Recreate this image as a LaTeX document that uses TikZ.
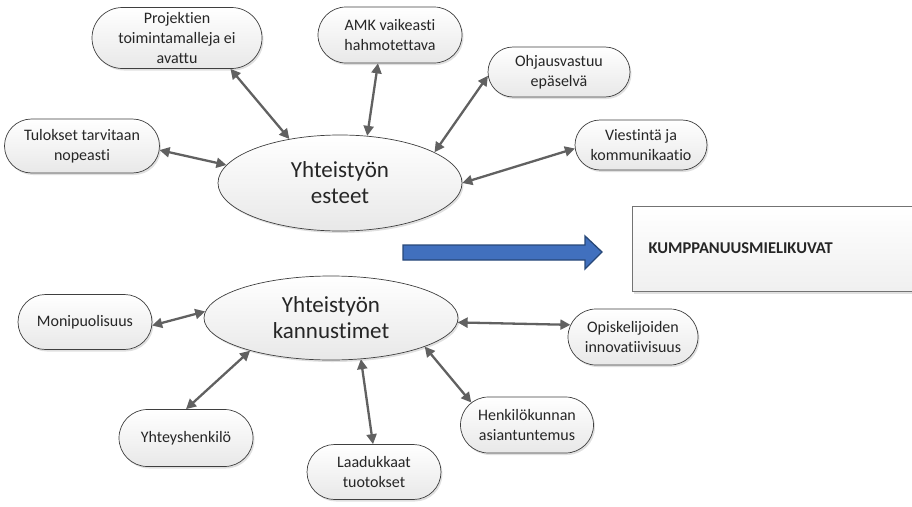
\documentclass[tikz,border=0pt]{standalone}
\usepackage{fontspec}
\setmainfont{Carlito}[Ligatures=NoCommon]
\usetikzlibrary{shapes.geometric,shapes.misc,arrows.meta,shadows}
\definecolor{arr}{HTML}{616161}
\definecolor{bord}{HTML}{3F3F3F}
\definecolor{blueF}{HTML}{4170BE}
\definecolor{blueD}{HTML}{284878}
\definecolor{txt}{HTML}{262626}
\begin{document}
\begin{tikzpicture}[x=1pt,y=-1pt,
  pill/.style={rounded rectangle, draw=bord, line width=0.7pt, top color=white, bottom color=black!9,
    drop shadow={shadow xshift=1.5pt,shadow yshift=-2pt,fill=black,opacity=0.12},
    align=center, font=\fontsize{16}{20}\selectfont, text=txt, inner sep=0pt},
  oval/.style={ellipse, draw=bord, line width=0.7pt, top color=white, bottom color=black!9,
    drop shadow={shadow xshift=1.5pt,shadow yshift=-2pt,fill=black,opacity=0.12},
    align=center, font=\fontsize{23}{26}\selectfont, text=txt, inner sep=0pt},
  link/.style={draw=arr, line width=2.3pt, {Triangle[length=10pt,width=10pt]}-{Triangle[length=10pt,width=10pt]}}
]
\useasboundingbox (0,0) rectangle (912,506);

% top group
\node[oval, minimum width=244pt, minimum height=96pt] (est) at (340,183) {Yhteistyön\\esteet};
\node[pill, minimum width=170pt, minimum height=61pt] (proj) at (177,38) {Projektien\\toimintamalleja ei\\avattu};
\node[pill, minimum width=144pt, minimum height=56pt] (amk) at (390,35) {AMK vaikeasti\\hahmotettava};
\node[pill, minimum width=142pt, minimum height=50pt] (ohj) at (559,72) {Ohjausvastuu\\epäselvä};
\node[pill, minimum width=132pt, minimum height=50pt] (vie) at (641,145) {Viestintä ja\\kommunikaatio};
\node[pill, minimum width=155pt, minimum height=54pt] (tul) at (82,146) {Tulokset tarvitaan\\nopeasti};

\draw[link] (proj.-30) -- (est.139);
\draw[link] (amk.-113) -- (est.60);
\draw[link] (ohj.183) -- (est.18);
\draw[link] (vie.183) -- (est.0.5);
\draw[link] (tul.-3) -- (est.171);

% bottom group
\node[oval, minimum width=254pt, minimum height=84pt] (kan) at (331,318) {Yhteistyön\\kannustimet};
\node[pill, minimum width=134pt, minimum height=55pt] (mon) at (85,322) {Monipuolisuus};
\node[pill, minimum width=134pt, minimum height=57pt] (yht) at (186,438) {Yhteyshenkilö};
\node[pill, minimum width=134pt, minimum height=55pt] (laa) at (374,472) {Laadukkaat\\tuotokset};
\node[pill, minimum width=130pt, minimum height=56pt] (opi) at (633,337) {Opiskelijoiden\\innovatiivisuus};
\node[pill, minimum width=133pt, minimum height=56pt] (hen) at (527,425) {Henkilökunnan\\asiantuntemus};

\draw[link] (mon.-3) -- (kan.177);
\draw[link] (yht.90) -- (kan.202);
\draw[link] (laa.92) -- (kan.-54);
\draw[link] (opi.169) -- (kan.-2);
\draw[link] (hen.158) -- (kan.-17);

% blue arrow
\coordinate (bs) at (403,252);
\coordinate (bt) at (602,252);
\draw[blueD, line width=1.3pt, fill=blueF]
  (403,245) -- (585,245) -- (585,236) -- (bt) -- (585,269) -- (585,260) -- (403,260) -- cycle;

% result box
\node[draw=black!55, line width=0.8pt, top color=white, bottom color=black!6,
  drop shadow={shadow xshift=1.5pt,shadow yshift=-2.5pt,fill=black,opacity=0.12},
  minimum width=290pt, minimum height=85pt, anchor=north west, inner sep=0pt] (kum) at (632,206) {};
\node[anchor=west, font=\fontsize{16.5}{18}\selectfont\bfseries, text=txt] (kumt) at (645,248) {KUMPPANUUSMIELIKUVAT};
\end{tikzpicture}
\end{document}
